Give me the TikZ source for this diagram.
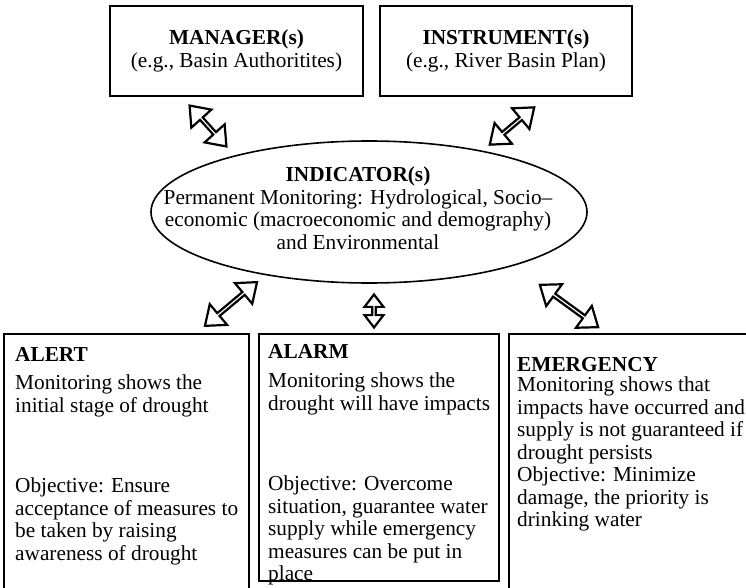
\documentclass[tikz,border=0pt]{standalone}
\usepackage{fontspec}
\setmainfont{Liberation Serif}
\usetikzlibrary{positioning,shapes.geometric,shapes.arrows}

\begin{document}
\begin{tikzpicture}[x=1pt, y=-1pt,
  font=\fontsize{21.3}{22.5}\selectfont,
  topbox/.style={draw, line width=1.6pt, minimum width=253pt,
    minimum height=90pt, align=center, inner sep=0pt},
  stagebox/.style={draw, line width=1.6pt, anchor=north west, inner sep=0pt},
  stagetext/.style={align=left, inner sep=0pt},
  indic/.style={draw, ellipse, line width=1.6pt, minimum width=436pt,
    minimum height=142pt, inner sep=0pt},
  linkarrow/.style={double arrow, draw, line width=2.2pt, fill=white,
    inner sep=0pt, minimum width=27pt, double arrow head extend=7pt,
    double arrow tip angle=75},
]
  \useasboundingbox (0,0) rectangle (746,588);

  \node[topbox] (manager) at (236.5,51)
    {\textbf{MANAGER(s)}\\(e.g., Basin Authoritites)};
  \node[topbox, minimum width=252pt] (instrument) at (506,51)
    {\textbf{INSTRUMENT(s)}\\(e.g., River Basin Plan)};

  \node[indic] (indicator) at (369,212) {};
  \node[align=center, inner sep=0pt] (indicatortxt) at (358,208)
    {\textbf{INDICATOR(s)}\\Permanent Monitoring: Hydrological, Socio--\\
     economic (macroeconomic and demography)\\and Environmental};

  % stage boxes
  \node[stagebox, minimum width=245pt, minimum height=260pt] (alert) at (3,333) {};
  \node[stagebox, minimum width=240pt, minimum height=247pt] (alarm) at (258,333) {};
  \node[stagebox, minimum width=245pt, minimum height=260pt] (emergency) at (508,333) {};

  \node[stagetext, below right=14pt and 12pt of alert.north west] (alerttxt)
    {\textbf{ALERT}\\[6pt]Monitoring shows the\\initial stage of drought\\[58pt]
     Objective: Ensure\\acceptance of measures to\\be taken by raising\\
     awareness of drought};
  \node[stagetext, below right=11pt and 10pt of alarm.north west] (alarmtxt)
    {\textbf{ALARM}\\[7pt]Monitoring shows the\\drought will have impacts\\[58pt]
     Objective: Overcome\\situation, guarantee water\\supply while emergency\\
     measures can be put in\\place};
  \node[stagetext, below right=24pt and 9pt of emergency.north west] (emergencytxt)
    {\textbf{EMERGENCY}\\[-2pt]Monitoring shows that\\impacts have occurred and\\
     supply is not guaranteed if\\drought persists\\Objective: Minimize\\
     damage, the priority is\\drinking water};

  % links
  \node[linkarrow, minimum height=55pt, rotate=-48] (linkman) at (208,126) {};
  \node[linkarrow, minimum height=58pt, rotate=40] (linkins) at (512,126) {};
  \node[linkarrow, minimum height=68pt, rotate=40] (linkalert) at (231,304) {};
  \node[linkarrow, minimum height=33pt, minimum width=19pt,
    double arrow head extend=5pt, rotate=90] (linkalarm) at (374,311) {};
  \node[linkarrow, minimum height=72pt, rotate=-36] (linkemerg) at (569,306) {};
\end{tikzpicture}
\end{document}
